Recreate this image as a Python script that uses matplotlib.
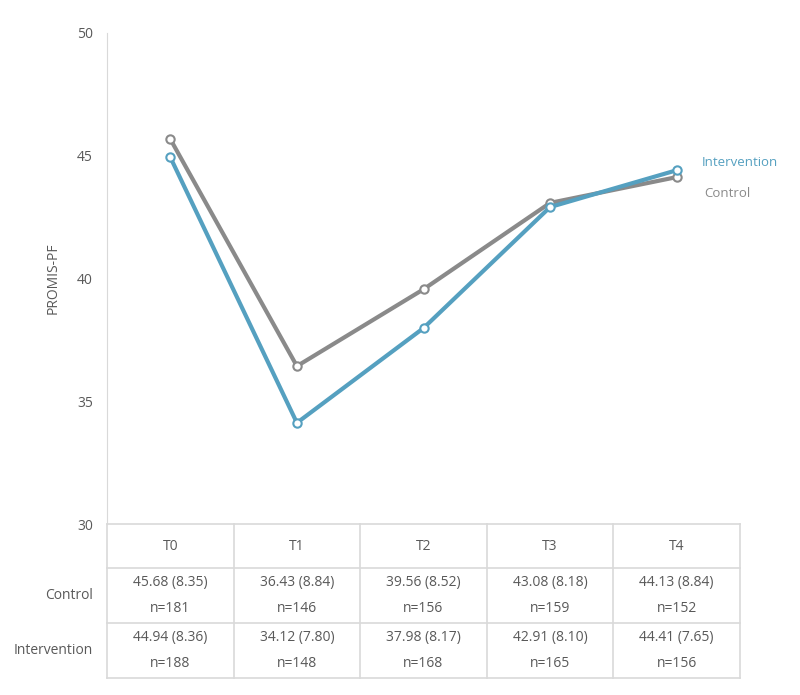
import matplotlib
matplotlib.use("Agg")
import matplotlib.pyplot as plt

timepoints = ["T0", "T1", "T2", "T3", "T4"]
control_mean = [45.68, 36.43, 39.56, 43.08, 44.13]
control_sd = [8.35, 8.84, 8.52, 8.18, 8.84]
control_n = [181, 146, 156, 159, 152]
interv_mean = [44.94, 34.12, 37.98, 42.91, 44.41]
interv_sd = [8.36, 7.80, 8.17, 8.10, 7.65]
interv_n = [188, 148, 168, 165, 156]

plt.rcParams["font.family"] = ["Open Sans", "DejaVu Sans"]
TEXT = "#595959"
GRID = "#D9D9D9"
BLUE = "#55A0C0"
GREY = "#8A8A8A"

fig = plt.figure(figsize=(8, 6.95), dpi=100)
left, right = 107 / 800, 740 / 800
ax = fig.add_axes([left, 1 - 524 / 695, right - left, (524 - 33) / 695])
tab = fig.add_axes([left, 1 - 678 / 695, right - left, (678 - 524) / 695])

x = list(range(len(timepoints)))
ax.plot(x, control_mean, color=GREY, lw=3, marker="o", ms=6,
        mfc="white", mec=GREY, mew=1.5, zorder=3)
ax.plot(x, interv_mean, color=BLUE, lw=3, marker="o", ms=6,
        mfc="white", mec=BLUE, mew=1.5, zorder=4)
ax.set_xlim(-0.5, 4.5)
ax.set_ylim(30, 50)
ax.set_yticks([30, 35, 40, 45, 50])
ax.tick_params(axis="y", length=0, labelsize=10, labelcolor=TEXT, pad=10)
ax.set_xticks([])
for s in ["top", "right", "bottom"]:
    ax.spines[s].set_visible(False)
ax.spines["left"].set_color(GRID)
ax.set_ylabel("PROMIS-PF", fontsize=10, color=TEXT, labelpad=12)
ax.text(4.2, interv_mean[-1] + 0.3, "Intervention", color=BLUE, fontsize=9.5,
        va="center", ha="left")
ax.text(4.22, control_mean[-1] - 0.65, "Control", color=GREY, fontsize=9.5,
        va="center", ha="left")

# table below the axis (row heights in pixels: 44, 55, 55)
tab.set_xlim(-0.5, 4.5)
tab.set_ylim(3, 0)
tab.axis("off")
row_edges = [0, 44 / 154 * 3, 99 / 154 * 3, 3]
for y in row_edges:
    tab.plot([-0.5, 4.5], [y, y], color=GRID, lw=1.2, clip_on=False)
for xe in [-0.5, 0.5, 1.5, 2.5, 3.5, 4.5]:
    tab.plot([xe, xe], [0, 3], color=GRID, lw=1.2, clip_on=False)

for i, t in enumerate(timepoints):
    tab.text(i, (row_edges[0] + row_edges[1]) / 2, t, ha="center", va="center",
             fontsize=10, color=TEXT)
    for r, (m, sd, n) in enumerate([(control_mean[i], control_sd[i], control_n[i]),
                                    (interv_mean[i], interv_sd[i], interv_n[i])]):
        yc = (row_edges[r + 1] + row_edges[r + 2]) / 2
        tab.text(i, yc - 0.25, f"{m:.2f} ({sd:.2f})", ha="center", va="center",
                 fontsize=10, color=TEXT)
        tab.text(i, yc + 0.25, f"n={n}", ha="center", va="center",
                 fontsize=10, color=TEXT)

for r, lab in enumerate(["Control", "Intervention"]):
    yc = (row_edges[r + 1] + row_edges[r + 2]) / 2
    tab.text(-0.61, yc, lab, ha="right", va="center", fontsize=10, color=TEXT)

fig.savefig("out.png", dpi=100)
